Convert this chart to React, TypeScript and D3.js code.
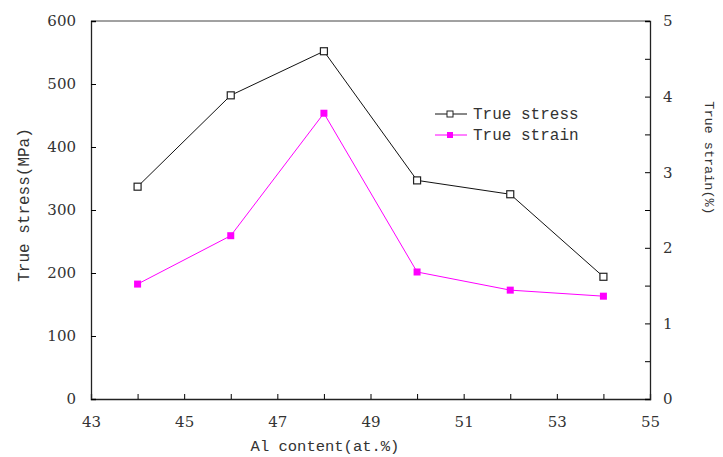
import React, { useEffect, useRef } from 'react';
import * as d3 from 'd3';

const alContent = [44, 46, 48, 50, 52, 54];
const trueStress = [337, 482, 552, 347, 325, 194];
const trueStrain = [1.52, 2.16, 3.78, 1.68, 1.44, 1.36];
const xTickLabels = [43, 45, 47, 49, 51, 53, 55];
const stressTicks = [0, 100, 200, 300, 400, 500, 600];
const strainTicks = [0, 1, 2, 3, 4, 5];

export default function App() {
  const ref = useRef<SVGSVGElement>(null);

  useEffect(() => {
    const svg = d3.select(ref.current);
    svg.selectAll('*').remove();
    const margin = { top: 21, right: 73, bottom: 58, left: 91 };
    const width = 723, height = 457;
    const w = width - margin.left - margin.right;
    const h = height - margin.top - margin.bottom;
    const tickFont = 'DejaVu Serif';
    const monoFont = 'Liberation Mono';

    const x = d3.scaleLinear().domain([43, 55]).range([0, w]);
    const yL = d3.scaleLinear().domain([0, 600]).range([h, 0]);
    const yR = d3.scaleLinear().domain([0, 5]).range([h, 0]);

    const g = svg.append('g').attr('transform', `translate(${margin.left},${margin.top})`);

    // top frame line
    g.append('line').attr('x1', 0).attr('x2', w).attr('y1', 0).attr('y2', 0).attr('stroke', '#444').attr('stroke-width', 1);

    // x axis, ticks point inward
    const xAxis = g.append('g').attr('transform', `translate(0,${h})`)
      .call(d3.axisBottom(x).tickValues(d3.range(43, 56, 1)).tickSize(-5).tickPadding(17)
        .tickFormat((d) => (xTickLabels.includes(+d) ? String(d) : '')));
    xAxis.attr('font-family', tickFont).attr('font-size', 15);
    xAxis.select('.domain').attr('stroke', '#222').attr('stroke-width', 1.3);
    xAxis.selectAll('text').attr('fill', '#333');

    const left = g.append('g')
      .call(d3.axisLeft(yL).tickValues(stressTicks).tickSize(-5).tickPadding(15));
    left.attr('font-family', tickFont).attr('font-size', 15);
    left.select('.domain').attr('stroke', '#222').attr('stroke-width', 1.3);
    left.selectAll('text').attr('fill', '#333');

    const right = g.append('g').attr('transform', `translate(${w},0)`)
      .call(d3.axisRight(yR).tickValues(d3.range(0, 5.01, 0.5)).tickSize(-5).tickPadding(13)
        .tickFormat((d) => (strainTicks.includes(+d) ? String(d) : '')));
    right.attr('font-family', tickFont).attr('font-size', 15);
    right.select('.domain').attr('stroke', '#222').attr('stroke-width', 1.3);
    right.selectAll('text').attr('fill', '#333');

    const stressLine = d3.line<number>().x((d, i) => x(alContent[i])).y((d) => yL(d));
    const strainLine = d3.line<number>().x((d, i) => x(alContent[i])).y((d) => yR(d));

    g.append('path').datum(trueStress).attr('d', stressLine).attr('fill', 'none').attr('stroke', '#111').attr('stroke-width', 1);
    g.append('path').datum(trueStrain).attr('d', strainLine).attr('fill', 'none').attr('stroke', '#ff00ff').attr('stroke-width', 1);

    g.selectAll('.ms').data(trueStress).enter().append('rect')
      .attr('x', (d, i) => x(alContent[i]) - 3.5).attr('y', (d) => yL(d) - 3.5)
      .attr('width', 7).attr('height', 7).attr('fill', 'white').attr('stroke', '#222').attr('stroke-width', 1.2);
    g.selectAll('.mt').data(trueStrain).enter().append('rect')
      .attr('x', (d, i) => x(alContent[i]) - 3.5).attr('y', (d) => yR(d) - 3.5)
      .attr('width', 7).attr('height', 7).attr('fill', '#ff00ff');

    // legend
    const legend = [
      { label: 'True stress', color: '#111', fill: 'white', y: 114 },
      { label: 'True strain', color: '#ff00ff', fill: '#ff00ff', y: 135 },
    ];
    legend.forEach((l) => {
      svg.append('line').attr('x1', 435).attr('x2', 467).attr('y1', l.y).attr('y2', l.y).attr('stroke', l.color).attr('stroke-width', 1);
      svg.append('rect').attr('x', 447).attr('y', l.y - 3).attr('width', 6).attr('height', 6)
        .attr('fill', l.fill).attr('stroke', l.fill === 'white' ? '#222' : 'none');
      svg.append('text').attr('x', 473).attr('y', l.y + 5).text(l.label)
        .attr('font-family', monoFont).attr('font-size', 16).attr('fill', '#333');
    });

    svg.append('text').attr('transform', 'translate(29,205) rotate(-90)').attr('text-anchor', 'middle')
      .text('True stress(MPa)').attr('font-family', monoFont).attr('font-size', 16).attr('fill', '#333');
    svg.append('text').attr('transform', 'translate(705,158) rotate(90)').attr('text-anchor', 'middle')
      .text('True strain(%)').attr('font-family', monoFont).attr('font-size', 13.5).attr('fill', '#333');
    svg.append('text').attr('x', 325).attr('y', 451).attr('text-anchor', 'middle')
      .text('Al content(at.%)').attr('font-family', monoFont).attr('font-size', 15.5).attr('fill', '#333');
  }, []);

  return (
    <svg ref={ref} width={723} height={457} style={{ position: 'absolute', left: 0, top: 0, background: 'white' }} />
  );
}
